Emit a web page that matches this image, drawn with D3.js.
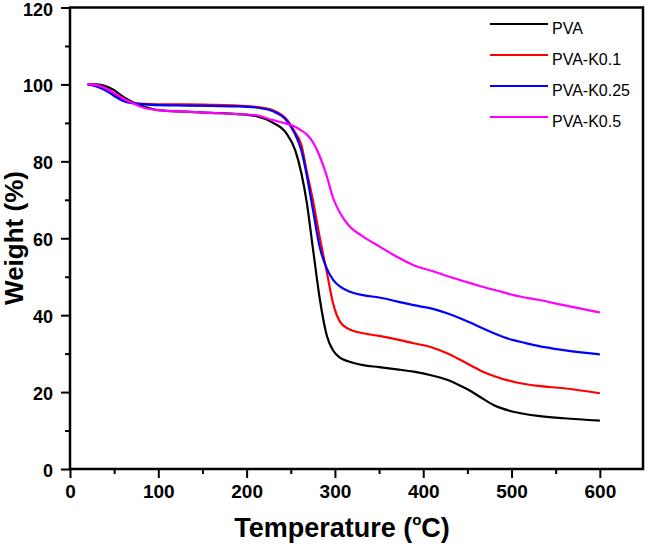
<!DOCTYPE html>
<html><head><meta charset="utf-8">
<script src="https://cdn.jsdelivr.net/npm/d3@7/dist/d3.min.js"></script>
<style>body{margin:0;background:#fff}svg{display:block}</style>
</head><body><svg id="c" width="645" height="544"></svg>
<script>
const temps = [20,30,40,50,60,70,80,100,130,160,190,210,230,245,255,262,268,275,283,291,298,306,315,332,350,370,389,410,427,445,455,464,480,490,502,515,530,559,600];
const pva    = [100,100,99.6,98.5,96.8,95.5,94.6,93.3,92.9,92.6,92.3,91.8,90.0,87.3,82.9,76.9,69.5,57.5,44,34.5,30.8,28.9,28,27,26.5,25.9,25.3,24.3,23.2,21.3,20.1,18.8,16.6,15.7,14.9,14.3,13.8,13.2,12.6];
const k01    = [100,99.8,99.1,97.6,96.2,95.3,95,94.8,94.8,94.7,94.5,94.2,93.3,91,87.5,84.3,77.5,70,60,51,43,38.2,36.5,35.3,34.6,33.7,32.7,31.6,30.1,28,26.8,25.7,24.2,23.4,22.7,22.1,21.6,21,19.7];
const k025   = [100,99.5,98.5,97,95.7,95.1,94.9,94.6,94.5,94.4,94.3,94,93,90.7,87,82.8,76.5,67.5,57.5,52,49.2,47.4,46.3,45.2,44.6,43.6,42.6,41.7,40.5,38.9,37.9,36.9,35.3,34.4,33.5,32.8,32,30.9,29.8];
const k05    = [100,99.8,99,97.8,96.4,95.2,94.2,93.3,92.9,92.6,92.3,92,90.7,89.8,89,88,87,85,81.2,76,70.4,66.5,63.5,60.4,57.9,55.2,53,51.5,50.2,48.9,48.2,47.6,46.6,46,45.2,44.6,44,42.6,40.7];
const seriesNames = ["PVA","PVA-K0.1","PVA-K0.25","PVA-K0.5"];
const seriesColors = ["#000000","#ff0000","#0000ff","#ff00ff"];
const seriesValues = [pva,k01,k025,k05];
const xTicks = [0,100,200,300,400,500,600];
const yTicks = [0,20,40,60,80,100,120];

const svg = d3.select("#c");
const x = d3.scaleLinear().domain([0,650]).range([70,644]);
const y = d3.scaleLinear().domain([0,120]).range([469,7.5]);
const font = "'Liberation Sans', Arial, sans-serif";

// frame
svg.append("rect").attr("x",70).attr("y",7.5).attr("width",573).attr("height",461.5)
  .attr("fill","none").attr("stroke","#000").attr("stroke-width",2.5);

// minor ticks
const xMinor = d3.range(50,650,100);
svg.append("g").attr("transform","translate(0,469)")
  .call(d3.axisBottom(x).tickValues(xMinor).tickSize(5).tickFormat(""))
  .call(g=>{g.select(".domain").remove();g.selectAll("line").attr("stroke-width",2);});
const yMinor = d3.range(10,120,20);
svg.append("g").attr("transform","translate(70,0)")
  .call(d3.axisLeft(y).tickValues(yMinor).tickSize(5).tickFormat(""))
  .call(g=>{g.select(".domain").remove();g.selectAll("line").attr("stroke-width",2);});

// major axes
svg.append("g").attr("transform","translate(0,469)")
  .call(d3.axisBottom(x).tickValues(xTicks).tickSize(9).tickPadding(7).tickFormat(d3.format("d")))
  .call(g=>{g.select(".domain").remove();g.selectAll("line").attr("stroke-width",2);
    g.selectAll("text").attr("font-family",font).attr("font-weight","bold").attr("font-size",19).attr("fill","#000");});
svg.append("g").attr("transform","translate(70,0)")
  .call(d3.axisLeft(y).tickValues(yTicks).tickSize(9).tickPadding(8).tickFormat(d3.format("d")))
  .call(g=>{g.select(".domain").remove();g.selectAll("line").attr("stroke-width",2);
    g.selectAll("text").attr("font-family",font).attr("font-weight","bold").attr("font-size",18).attr("fill","#000").attr("dy","0.42em");});

// curves
const line = d3.line().x((d,i)=>x(temps[i])).y(d=>y(d)).curve(d3.curveMonotoneX);
seriesValues.forEach((vals,k)=>{
  svg.append("path").datum(vals).attr("d",line).attr("fill","none")
    .attr("stroke",seriesColors[k]).attr("stroke-width",2.2);
});

// legend
const lg = svg.append("g");
seriesNames.forEach((n,k)=>{
  const ly = 24 + k*31;
  lg.append("line").attr("x1",490).attr("x2",548).attr("y1",ly).attr("y2",ly)
    .attr("stroke",seriesColors[k]).attr("stroke-width",2.2);
  lg.append("text").attr("x",552).attr("y",ly+10).text(n)
    .attr("font-family",font).attr("font-size",16).attr("fill","#000");
});

// axis titles
const xt = svg.append("text").attr("x",342).attr("y",537).attr("text-anchor","middle")
  .attr("font-family",font).attr("font-weight","bold").attr("font-size",27).attr("fill","#000");
xt.append("tspan").text("Temperature (");
xt.append("tspan").text("o").attr("font-size",15).attr("dy",-12);
xt.append("tspan").text("C)").attr("dy",12);

svg.append("text").attr("transform","translate(23,238) rotate(-90)").attr("text-anchor","middle")
  .attr("font-family",font).attr("font-weight","bold").attr("font-size",26).attr("fill","#000")
  .text("Weight (%)");
</script></body></html>
